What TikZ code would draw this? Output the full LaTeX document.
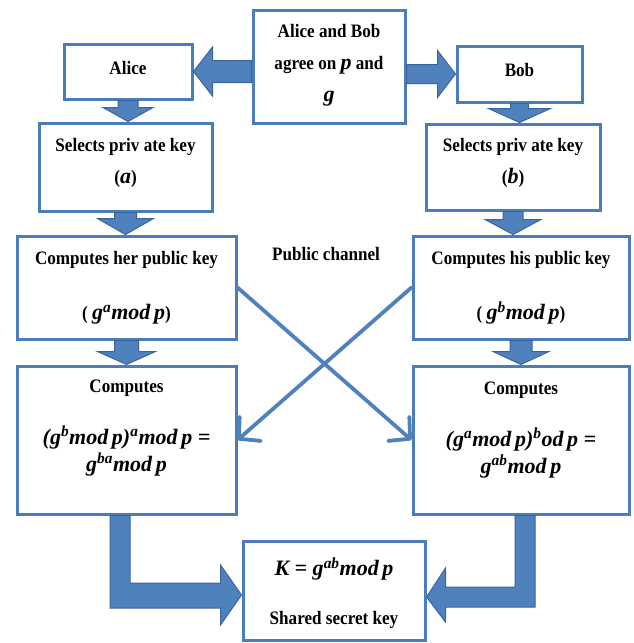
\documentclass[tikz,border=0pt]{standalone}
\usepackage{fontspec}
\setmainfont{Liberation Serif}[FakeStretch=0.9]
\newfontfamily\mfam{Liberation Serif}
\usetikzlibrary{arrows.meta,calc}
\definecolor{boxblue}{HTML}{4A7EBB}
\definecolor{darkblue}{HTML}{3A659C}
\definecolor{arrblue}{HTML}{4F81BD}
\newcommand\mi[1]{{\mfam\fontsize{22}{22}\selectfont\bfseries\itshape #1}}
\newcommand\su[1]{\textsuperscript{#1}}
% block arrow down: from, to, shaft half width, head half width, head length
\newcommand\downblk[5]{%
  \path[blk] let \p1=(#1.south), \p2=(#2.north) in
  (\x1-#3pt,\y1) -- (\x1+#3pt,\y1) -- (\x1+#3pt,\y2+#5pt) -- (\x1+#4pt,\y2+#5pt)
  -- (\x1,\y2) -- (\x1-#4pt,\y2+#5pt) -- (\x1-#3pt,\y2+#5pt) -- cycle;}
\newcommand\leftblk[5]{%
  \path[blk] let \p1=(#1.west), \p2=(#2.east) in
  (\x1,\y2+#3pt) -- (\x2+#5pt,\y2+#3pt) -- (\x2+#5pt,\y2+#4pt) -- (\x2,\y2)
  -- (\x2+#5pt,\y2-#4pt) -- (\x2+#5pt,\y2-#3pt) -- (\x1,\y2-#3pt) -- cycle;}
\newcommand\rightblk[5]{%
  \path[blk] let \p1=(#1.east), \p2=(#2.west) in
  (\x1,\y2+#3pt) -- (\x2-#5pt,\y2+#3pt) -- (\x2-#5pt,\y2+#4pt) -- (\x2,\y2)
  -- (\x2-#5pt,\y2-#4pt) -- (\x2-#5pt,\y2-#3pt) -- (\x1,\y2-#3pt) -- cycle;}
\begin{document}
\begin{tikzpicture}[x=1pt,y=-1pt,
  box/.style={draw=boxblue, line width=3pt, inner sep=0pt, rectangle},
  txt/.style={font=\fontsize{19}{22}\selectfont\bfseries, inner sep=0pt, align=center},
  blk/.style={fill=arrblue, draw=darkblue, line width=1pt, line join=miter},
  chan/.style={draw=arrblue, line width=3.8pt, line cap=round,
    -{Straight Barb[length=15pt,width=32pt,line width=3.8pt,round]}}]
\useasboundingbox (0,0) rectangle (633,643);

% boxes
\node[box, minimum width=152pt, minimum height=113pt] (top) at (329,66.5) {};
\node[box, minimum width=128pt, minimum height=55pt] (alice) at (128,71.5) {};
\node[box, minimum width=125pt, minimum height=56pt] (bob) at (519.5,74) {};
\node[box, minimum width=173pt, minimum height=88pt] (selL) at (125.5,167) {};
\node[box, minimum width=174pt, minimum height=86pt] (selR) at (513,167) {};
\node[box, minimum width=219pt, minimum height=103pt] (compL) at (126.5,287.5) {};
\node[box, minimum width=216pt, minimum height=103pt] (compR) at (521,287.5) {};
\node[box, minimum width=219pt, minimum height=148pt] (lowL) at (126.5,440) {};
\node[box, minimum width=216pt, minimum height=148pt] (lowR) at (521,440) {};
\node[box, minimum width=182pt, minimum height=99pt] (bottom) at (334,590.5) {};

% texts
\node[txt, font=\fontsize{19}{32}\selectfont\bfseries] (tTop) at (329,65)
  {Alice and Bob\\ agree on \mi{p} and\\ \mi{g}};
\node[txt] (tAlice) at (128,68) {Alice};
\node[txt] (tBob) at (519.5,70) {Bob};
\node[txt, font=\fontsize{19}{32}\selectfont\bfseries] (tSelL) at (125.5,163)
  {Selects priv ate key\\ (\mi{a})};
\node[txt, font=\fontsize{19}{32}\selectfont\bfseries] (tSelR) at (513,163)
  {Selects priv ate key\\ (\mi{b})};
\node[txt, font=\fontsize{19}{55}\selectfont\bfseries] (tCompL) at (126.5,288)
  {Computes her public key\\ ( \mi{g\su{a}mod\,p})};
\node[txt, font=\fontsize{19}{55}\selectfont\bfseries] (tCompR) at (521,288)
  {Computes his public key\\ ( \mi{g\su{b}mod\,p})};
\node[txt] (tPub) at (326,254) {Public channel};
\node[txt, font=\fontsize{19}{27}\selectfont\bfseries] (tLowL) at (126.5,428)
  {Computes\\[25pt] \mi{(g\su{b}mod\,p)\su{a}mod\,p =}\\ \mi{g\su{ba}mod\,p}};
\node[txt, font=\fontsize{19}{27}\selectfont\bfseries] (tLowR) at (521,430)
  {Computes\\[25pt] \mi{(g\su{a}mod\,p)\su{b}od\,p =}\\ \mi{g\su{ab}mod\,p}};
\node[txt, font=\fontsize{19}{49}\selectfont\bfseries] (tBot) at (334,593)
  {\mi{K = g\su{ab}mod\,p}\\ Shared secret key};

% block arrows
\leftblk{top}{alice}{11}{24.5}{19}
\rightblk{top}{bob}{9.5}{23.5}{18}
\downblk{alice}{selL}{10}{25}{14}
\downblk{bob}{selR}{9}{31}{14}
\downblk{selL}{compL}{11}{28}{16}
\downblk{selR}{compR}{10}{28}{15}
\downblk{compL}{lowL}{12}{29}{13}
\downblk{compR}{lowR}{11}{28}{13}

% elbow arrows to the shared key
\path[blk] let \p1=(lowL.south), \p2=(bottom.west) in
  (\x1-16.5pt,\y1) -- (\x1+3.5pt,\y1) -- (\x1+3.5pt,\y2+7.5pt) -- (\x2-21pt,\y2+7.5pt)
  -- (\x2-21pt,\y2+25.5pt) -- (\x2,\y2-4.5pt) -- (\x2-21pt,\y2-34.5pt)
  -- (\x2-21pt,\y2-17.5pt) -- (\x1-16.5pt,\y2-17.5pt) -- cycle;
\path[blk] let \p1=(lowR.south), \p2=(bottom.east) in
  (\x1+14pt,\y1) -- (\x1-6pt,\y1) -- (\x1-6pt,\y2+3.5pt) -- (\x2+19pt,\y2+3.5pt)
  -- (\x2+19pt,\y2+22.5pt) -- (\x2,\y2-6.5pt) -- (\x2+19pt,\y2-31.5pt)
  -- (\x2+19pt,\y2-16.5pt) -- (\x1+14pt,\y2-16.5pt) -- cycle;

% public channel crossing lines
\draw[chan] (compL.east) -- (lowR.west);
\draw[chan] (compR.west) -- (lowL.east);
\end{tikzpicture}
\end{document}
